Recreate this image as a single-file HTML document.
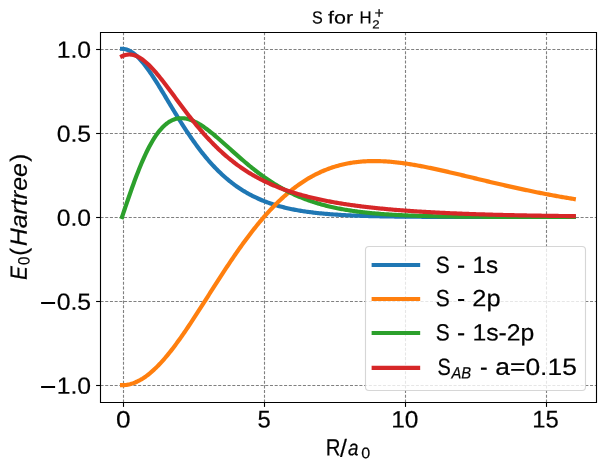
<!DOCTYPE html>
<html><head><meta charset="utf-8"><style>
html,body{margin:0;padding:0;background:#fff;}
svg{display:block;}
text{font-family:"Liberation Sans",sans-serif;fill:#000;}
.t{opacity:0.999;}
.t text{stroke:#000;stroke-width:0.2px;}
</style></head><body>
<svg width="603" height="470" viewBox="0 0 603 470">
<rect width="603" height="470" fill="#fff"/>
<g fill="none" stroke="#808080" stroke-width="1.11" stroke-dasharray="3.04 1.667">
<path d="M123.5,402.5 V32.5"/><path d="M264.5,402.5 V32.5"/><path d="M405.5,402.5 V32.5"/><path d="M546.5,402.5 V32.5"/><path d="M100.5,49.5 H596.5"/><path d="M100.5,133.5 H596.5"/><path d="M100.5,217.5 H596.5"/><path d="M100.5,301.5 H596.5"/><path d="M100.5,385.5 H596.5"/>
</g>
<g fill="none" stroke-width="4.1667" stroke-linecap="square" stroke-linejoin="round">
<path stroke="#1f77b4" d="M122.05,48.85 L123.18,48.90 L124.31,49.03 L125.45,49.25 L126.58,49.57 L127.71,49.97 L128.84,50.45 L129.98,51.02 L131.11,51.67 L132.24,52.40 L133.37,53.21 L134.50,54.09 L135.64,55.05 L136.77,56.07 L137.90,57.16 L139.03,58.32 L140.17,59.53 L141.30,60.81 L142.43,62.14 L143.56,63.52 L144.69,64.96 L145.83,66.44 L146.96,67.96 L148.09,69.52 L149.22,71.13 L150.36,72.77 L151.49,74.44 L152.62,76.14 L153.75,77.87 L154.88,79.63 L156.02,81.40 L157.15,83.20 L158.28,85.02 L159.41,86.85 L160.55,88.70 L161.68,90.56 L162.81,92.42 L163.94,94.30 L165.07,96.18 L166.21,98.06 L167.34,99.95 L168.47,101.84 L169.60,103.73 L170.74,105.61 L171.87,107.49 L173.00,109.37 L174.13,111.23 L175.26,113.09 L176.40,114.95 L177.53,116.79 L178.66,118.62 L179.79,120.43 L180.93,122.24 L182.06,124.03 L183.19,125.80 L184.32,127.56 L185.45,129.30 L186.59,131.03 L187.72,132.74 L188.85,134.43 L189.98,136.10 L191.12,137.75 L192.25,139.38 L193.38,140.99 L194.51,142.58 L195.64,144.15 L196.78,145.70 L197.91,147.23 L199.04,148.73 L200.17,150.22 L201.31,151.68 L202.44,153.12 L203.57,154.53 L204.70,155.93 L205.84,157.30 L206.97,158.65 L208.10,159.98 L209.23,161.28 L210.36,162.56 L211.50,163.82 L212.63,165.06 L213.76,166.28 L214.89,167.47 L216.03,168.64 L217.16,169.79 L218.29,170.92 L219.42,172.03 L220.55,173.12 L221.69,174.18 L222.82,175.22 L223.95,176.25 L225.08,177.25 L226.22,178.23 L227.35,179.19 L228.48,180.13 L229.61,181.06 L230.74,181.96 L231.88,182.84 L233.01,183.71 L234.14,184.55 L235.27,185.38 L236.41,186.19 L237.54,186.98 L238.67,187.76 L239.80,188.51 L240.93,189.25 L242.07,189.98 L243.20,190.68 L244.33,191.38 L245.46,192.05 L246.60,192.71 L247.73,193.35 L248.86,193.98 L249.99,194.60 L251.12,195.19 L252.26,195.78 L253.39,196.35 L254.52,196.91 L255.65,197.45 L256.79,197.98 L257.92,198.50 L259.05,199.00 L260.18,199.50 L261.31,199.98 L262.45,200.45 L263.58,200.90 L264.71,201.35 L265.84,201.78 L266.98,202.20 L268.11,202.62 L269.24,203.02 L270.37,203.41 L271.50,203.79 L272.64,204.16 L273.77,204.52 L274.90,204.88 L276.03,205.22 L277.17,205.55 L278.30,205.88 L279.43,206.19 L280.56,206.50 L281.69,206.80 L282.83,207.10 L283.96,207.38 L285.09,207.66 L286.22,207.93 L287.36,208.19 L288.49,208.44 L289.62,208.69 L290.75,208.93 L291.88,209.17 L293.02,209.40 L294.15,209.62 L295.28,209.83 L296.41,210.04 L297.55,210.25 L298.68,210.45 L299.81,210.64 L300.94,210.83 L302.07,211.01 L303.21,211.19 L304.34,211.36 L305.47,211.53 L306.60,211.69 L307.74,211.85 L308.87,212.00 L310.00,212.15 L311.13,212.30 L312.26,212.44 L313.40,212.58 L314.53,212.71 L315.66,212.84 L316.79,212.96 L317.93,213.09 L319.06,213.20 L320.19,213.32 L321.32,213.43 L322.45,213.54 L323.59,213.64 L324.72,213.75 L325.85,213.85 L326.98,213.94 L328.12,214.04 L329.25,214.13 L330.38,214.21 L331.51,214.30 L332.64,214.38 L333.78,214.46 L334.91,214.54 L336.04,214.62 L337.17,214.69 L338.31,214.76 L339.44,214.83 L340.57,214.90 L341.70,214.96 L342.83,215.03 L343.97,215.09 L345.10,215.15 L346.23,215.21 L347.36,215.26 L348.50,215.32 L349.63,215.37 L350.76,215.42 L351.89,215.47 L353.03,215.52 L354.16,215.56 L355.29,215.61 L356.42,215.65 L357.55,215.70 L358.69,215.74 L359.82,215.78 L360.95,215.81 L362.08,215.85 L363.22,215.89 L364.35,215.92 L365.48,215.96 L366.61,215.99 L367.74,216.02 L368.88,216.05 L370.01,216.08 L371.14,216.11 L372.27,216.14 L373.41,216.17 L374.54,216.20 L375.67,216.22 L376.80,216.25 L377.93,216.27 L379.07,216.29 L380.20,216.32 L381.33,216.34 L382.46,216.36 L383.60,216.38 L384.73,216.40 L385.86,216.42 L386.99,216.44 L388.12,216.46 L389.26,216.47 L390.39,216.49 L391.52,216.51 L392.65,216.52 L393.79,216.54 L394.92,216.55 L396.05,216.57 L397.18,216.58 L398.31,216.60 L399.45,216.61 L400.58,216.62 L401.71,216.63 L402.84,216.65 L403.98,216.66 L405.11,216.67 L406.24,216.68 L407.37,216.69 L408.50,216.70 L409.64,216.71 L410.77,216.72 L411.90,216.73 L413.03,216.74 L414.17,216.75 L415.30,216.75 L416.43,216.76 L417.56,216.77 L418.69,216.78 L419.83,216.79 L420.96,216.79 L422.09,216.80 L423.22,216.81 L424.36,216.81 L425.49,216.82 L426.62,216.82 L427.75,216.83 L428.88,216.84 L430.02,216.84 L431.15,216.85 L432.28,216.85 L433.41,216.86 L434.55,216.86 L435.68,216.87 L436.81,216.87 L437.94,216.87 L439.07,216.88 L440.21,216.88 L441.34,216.89 L442.47,216.89 L443.60,216.89 L444.74,216.90 L445.87,216.90 L447.00,216.90 L448.13,216.91 L449.26,216.91 L450.40,216.91 L451.53,216.92 L452.66,216.92 L453.79,216.92 L454.93,216.92 L456.06,216.93 L457.19,216.93 L458.32,216.93 L459.45,216.93 L460.59,216.94 L461.72,216.94 L462.85,216.94 L463.98,216.94 L465.12,216.94 L466.25,216.95 L467.38,216.95 L468.51,216.95 L469.64,216.95 L470.78,216.95 L471.91,216.95 L473.04,216.96 L474.17,216.96 L475.31,216.96 L476.44,216.96 L477.57,216.96 L478.70,216.96 L479.83,216.96 L480.97,216.97 L482.10,216.97 L483.23,216.97 L484.36,216.97 L485.50,216.97 L486.63,216.97 L487.76,216.97 L488.89,216.97 L490.02,216.97 L491.16,216.97 L492.29,216.98 L493.42,216.98 L494.55,216.98 L495.69,216.98 L496.82,216.98 L497.95,216.98 L499.08,216.98 L500.22,216.98 L501.35,216.98 L502.48,216.98 L503.61,216.98 L504.74,216.98 L505.88,216.98 L507.01,216.98 L508.14,216.99 L509.27,216.99 L510.41,216.99 L511.54,216.99 L512.67,216.99 L513.80,216.99 L514.93,216.99 L516.07,216.99 L517.20,216.99 L518.33,216.99 L519.46,216.99 L520.60,216.99 L521.73,216.99 L522.86,216.99 L523.99,216.99 L525.12,216.99 L526.26,216.99 L527.39,216.99 L528.52,216.99 L529.65,216.99 L530.79,216.99 L531.92,216.99 L533.05,216.99 L534.18,216.99 L535.31,216.99 L536.45,216.99 L537.58,216.99 L538.71,216.99 L539.84,216.99 L540.98,216.99 L542.11,216.99 L543.24,216.99 L544.37,217.00 L545.50,217.00 L546.64,217.00 L547.77,217.00 L548.90,217.00 L550.03,217.00 L551.17,217.00 L552.30,217.00 L553.43,217.00 L554.56,217.00 L555.69,217.00 L556.83,217.00 L557.96,217.00 L559.09,217.00 L560.22,217.00 L561.36,217.00 L562.49,217.00 L563.62,217.00 L564.75,217.00 L565.88,217.00 L567.02,217.00 L568.15,217.00 L569.28,217.00 L570.41,217.00 L571.55,217.00 L572.68,217.00 L573.81,217.00"/><path stroke="#ff7f0e" d="M122.05,385.15 L123.18,385.13 L124.31,385.07 L125.45,384.97 L126.58,384.83 L127.71,384.64 L128.84,384.42 L129.98,384.16 L131.11,383.86 L132.24,383.51 L133.37,383.13 L134.50,382.71 L135.64,382.25 L136.77,381.75 L137.90,381.22 L139.03,380.64 L140.17,380.03 L141.30,379.38 L142.43,378.70 L143.56,377.97 L144.69,377.21 L145.83,376.42 L146.96,375.59 L148.09,374.73 L149.22,373.83 L150.36,372.90 L151.49,371.93 L152.62,370.94 L153.75,369.91 L154.88,368.85 L156.02,367.76 L157.15,366.64 L158.28,365.49 L159.41,364.31 L160.55,363.10 L161.68,361.87 L162.81,360.61 L163.94,359.32 L165.07,358.01 L166.21,356.67 L167.34,355.31 L168.47,353.93 L169.60,352.52 L170.74,351.09 L171.87,349.64 L173.00,348.17 L174.13,346.67 L175.26,345.16 L176.40,343.63 L177.53,342.09 L178.66,340.52 L179.79,338.94 L180.93,337.34 L182.06,335.73 L183.19,334.10 L184.32,332.46 L185.45,330.81 L186.59,329.15 L187.72,327.47 L188.85,325.78 L189.98,324.08 L191.12,322.37 L192.25,320.66 L193.38,318.93 L194.51,317.20 L195.64,315.46 L196.78,313.71 L197.91,311.96 L199.04,310.20 L200.17,308.44 L201.31,306.67 L202.44,304.90 L203.57,303.13 L204.70,301.36 L205.84,299.58 L206.97,297.80 L208.10,296.02 L209.23,294.25 L210.36,292.47 L211.50,290.70 L212.63,288.92 L213.76,287.15 L214.89,285.38 L216.03,283.61 L217.16,281.85 L218.29,280.09 L219.42,278.34 L220.55,276.59 L221.69,274.85 L222.82,273.11 L223.95,271.38 L225.08,269.66 L226.22,267.94 L227.35,266.23 L228.48,264.53 L229.61,262.84 L230.74,261.16 L231.88,259.48 L233.01,257.82 L234.14,256.16 L235.27,254.52 L236.41,252.88 L237.54,251.26 L238.67,249.65 L239.80,248.04 L240.93,246.45 L242.07,244.88 L243.20,243.31 L244.33,241.76 L245.46,240.22 L246.60,238.69 L247.73,237.17 L248.86,235.67 L249.99,234.18 L251.12,232.71 L252.26,231.25 L253.39,229.80 L254.52,228.37 L255.65,226.96 L256.79,225.55 L257.92,224.17 L259.05,222.79 L260.18,221.44 L261.31,220.09 L262.45,218.77 L263.58,217.45 L264.71,216.16 L265.84,214.88 L266.98,213.61 L268.11,212.36 L269.24,211.13 L270.37,209.91 L271.50,208.71 L272.64,207.53 L273.77,206.36 L274.90,205.21 L276.03,204.07 L277.17,202.95 L278.30,201.85 L279.43,200.76 L280.56,199.69 L281.69,198.63 L282.83,197.59 L283.96,196.57 L285.09,195.57 L286.22,194.58 L287.36,193.60 L288.49,192.65 L289.62,191.70 L290.75,190.78 L291.88,189.87 L293.02,188.98 L294.15,188.10 L295.28,187.24 L296.41,186.40 L297.55,185.57 L298.68,184.76 L299.81,183.96 L300.94,183.18 L302.07,182.42 L303.21,181.67 L304.34,180.93 L305.47,180.21 L306.60,179.51 L307.74,178.82 L308.87,178.15 L310.00,177.49 L311.13,176.85 L312.26,176.22 L313.40,175.61 L314.53,175.01 L315.66,174.43 L316.79,173.86 L317.93,173.30 L319.06,172.76 L320.19,172.24 L321.32,171.72 L322.45,171.22 L323.59,170.74 L324.72,170.27 L325.85,169.81 L326.98,169.37 L328.12,168.94 L329.25,168.52 L330.38,168.11 L331.51,167.72 L332.64,167.34 L333.78,166.98 L334.91,166.62 L336.04,166.28 L337.17,165.95 L338.31,165.64 L339.44,165.33 L340.57,165.04 L341.70,164.76 L342.83,164.49 L343.97,164.23 L345.10,163.98 L346.23,163.75 L347.36,163.52 L348.50,163.31 L349.63,163.10 L350.76,162.91 L351.89,162.73 L353.03,162.56 L354.16,162.39 L355.29,162.24 L356.42,162.10 L357.55,161.97 L358.69,161.85 L359.82,161.73 L360.95,161.63 L362.08,161.54 L363.22,161.45 L364.35,161.37 L365.48,161.31 L366.61,161.25 L367.74,161.20 L368.88,161.16 L370.01,161.12 L371.14,161.10 L372.27,161.08 L373.41,161.07 L374.54,161.07 L375.67,161.07 L376.80,161.09 L377.93,161.11 L379.07,161.13 L380.20,161.17 L381.33,161.21 L382.46,161.26 L383.60,161.31 L384.73,161.38 L385.86,161.44 L386.99,161.52 L388.12,161.60 L389.26,161.69 L390.39,161.78 L391.52,161.88 L392.65,161.98 L393.79,162.09 L394.92,162.21 L396.05,162.33 L397.18,162.45 L398.31,162.58 L399.45,162.72 L400.58,162.86 L401.71,163.01 L402.84,163.16 L403.98,163.31 L405.11,163.47 L406.24,163.64 L407.37,163.80 L408.50,163.98 L409.64,164.15 L410.77,164.33 L411.90,164.52 L413.03,164.71 L414.17,164.90 L415.30,165.09 L416.43,165.29 L417.56,165.49 L418.69,165.70 L419.83,165.91 L420.96,166.12 L422.09,166.33 L423.22,166.55 L424.36,166.77 L425.49,166.99 L426.62,167.22 L427.75,167.45 L428.88,167.68 L430.02,167.91 L431.15,168.15 L432.28,168.38 L433.41,168.62 L434.55,168.87 L435.68,169.11 L436.81,169.35 L437.94,169.60 L439.07,169.85 L440.21,170.10 L441.34,170.36 L442.47,170.61 L443.60,170.87 L444.74,171.12 L445.87,171.38 L447.00,171.64 L448.13,171.90 L449.26,172.16 L450.40,172.43 L451.53,172.69 L452.66,172.96 L453.79,173.22 L454.93,173.49 L456.06,173.76 L457.19,174.03 L458.32,174.30 L459.45,174.56 L460.59,174.84 L461.72,175.11 L462.85,175.38 L463.98,175.65 L465.12,175.92 L466.25,176.19 L467.38,176.47 L468.51,176.74 L469.64,177.01 L470.78,177.29 L471.91,177.56 L473.04,177.83 L474.17,178.11 L475.31,178.38 L476.44,178.65 L477.57,178.93 L478.70,179.20 L479.83,179.47 L480.97,179.74 L482.10,180.02 L483.23,180.29 L484.36,180.56 L485.50,180.83 L486.63,181.10 L487.76,181.37 L488.89,181.64 L490.02,181.91 L491.16,182.18 L492.29,182.45 L493.42,182.71 L494.55,182.98 L495.69,183.25 L496.82,183.51 L497.95,183.78 L499.08,184.04 L500.22,184.30 L501.35,184.57 L502.48,184.83 L503.61,185.09 L504.74,185.35 L505.88,185.61 L507.01,185.86 L508.14,186.12 L509.27,186.38 L510.41,186.63 L511.54,186.89 L512.67,187.14 L513.80,187.39 L514.93,187.64 L516.07,187.89 L517.20,188.14 L518.33,188.39 L519.46,188.64 L520.60,188.88 L521.73,189.13 L522.86,189.37 L523.99,189.61 L525.12,189.85 L526.26,190.09 L527.39,190.33 L528.52,190.57 L529.65,190.80 L530.79,191.04 L531.92,191.27 L533.05,191.51 L534.18,191.74 L535.31,191.97 L536.45,192.19 L537.58,192.42 L538.71,192.65 L539.84,192.87 L540.98,193.09 L542.11,193.32 L543.24,193.54 L544.37,193.76 L545.50,193.97 L546.64,194.19 L547.77,194.41 L548.90,194.62 L550.03,194.83 L551.17,195.04 L552.30,195.25 L553.43,195.46 L554.56,195.67 L555.69,195.87 L556.83,196.08 L557.96,196.28 L559.09,196.48 L560.22,196.68 L561.36,196.88 L562.49,197.08 L563.62,197.27 L564.75,197.47 L565.88,197.66 L567.02,197.85 L568.15,198.04 L569.28,198.23 L570.41,198.42 L571.55,198.61 L572.68,198.79 L573.81,198.98"/><path stroke="#2ca02c" d="M122.05,217.00 L123.18,213.63 L124.31,210.27 L125.45,206.91 L126.58,203.57 L127.71,200.26 L128.84,196.97 L129.98,193.71 L131.11,190.49 L132.24,187.30 L133.37,184.17 L134.50,181.08 L135.64,178.04 L136.77,175.06 L137.90,172.14 L139.03,169.28 L140.17,166.49 L141.30,163.77 L142.43,161.12 L143.56,158.54 L144.69,156.04 L145.83,153.61 L146.96,151.27 L148.09,149.00 L149.22,146.82 L150.36,144.71 L151.49,142.69 L152.62,140.76 L153.75,138.90 L154.88,137.14 L156.02,135.45 L157.15,133.85 L158.28,132.33 L159.41,130.90 L160.55,129.55 L161.68,128.28 L162.81,127.09 L163.94,125.99 L165.07,124.96 L166.21,124.01 L167.34,123.14 L168.47,122.35 L169.60,121.62 L170.74,120.98 L171.87,120.40 L173.00,119.90 L174.13,119.46 L175.26,119.10 L176.40,118.80 L177.53,118.56 L178.66,118.38 L179.79,118.27 L180.93,118.21 L182.06,118.21 L183.19,118.27 L184.32,118.38 L185.45,118.55 L186.59,118.76 L187.72,119.02 L188.85,119.33 L189.98,119.68 L191.12,120.08 L192.25,120.52 L193.38,121.00 L194.51,121.52 L195.64,122.07 L196.78,122.66 L197.91,123.28 L199.04,123.93 L200.17,124.62 L201.31,125.33 L202.44,126.07 L203.57,126.83 L204.70,127.62 L205.84,128.43 L206.97,129.26 L208.10,130.12 L209.23,130.99 L210.36,131.88 L211.50,132.78 L212.63,133.70 L213.76,134.63 L214.89,135.58 L216.03,136.54 L217.16,137.50 L218.29,138.48 L219.42,139.46 L220.55,140.46 L221.69,141.45 L222.82,142.46 L223.95,143.47 L225.08,144.48 L226.22,145.49 L227.35,146.51 L228.48,147.52 L229.61,148.54 L230.74,149.56 L231.88,150.57 L233.01,151.59 L234.14,152.60 L235.27,153.61 L236.41,154.61 L237.54,155.62 L238.67,156.61 L239.80,157.61 L240.93,158.59 L242.07,159.57 L243.20,160.55 L244.33,161.52 L245.46,162.48 L246.60,163.43 L247.73,164.38 L248.86,165.31 L249.99,166.24 L251.12,167.16 L252.26,168.08 L253.39,168.98 L254.52,169.87 L255.65,170.75 L256.79,171.63 L257.92,172.49 L259.05,173.35 L260.18,174.19 L261.31,175.02 L262.45,175.85 L263.58,176.66 L264.71,177.46 L265.84,178.25 L266.98,179.03 L268.11,179.80 L269.24,180.56 L270.37,181.30 L271.50,182.04 L272.64,182.77 L273.77,183.48 L274.90,184.18 L276.03,184.88 L277.17,185.56 L278.30,186.23 L279.43,186.89 L280.56,187.54 L281.69,188.18 L282.83,188.80 L283.96,189.42 L285.09,190.03 L286.22,190.62 L287.36,191.21 L288.49,191.78 L289.62,192.35 L290.75,192.90 L291.88,193.45 L293.02,193.98 L294.15,194.51 L295.28,195.02 L296.41,195.53 L297.55,196.02 L298.68,196.51 L299.81,196.98 L300.94,197.45 L302.07,197.91 L303.21,198.36 L304.34,198.80 L305.47,199.23 L306.60,199.65 L307.74,200.06 L308.87,200.47 L310.00,200.87 L311.13,201.26 L312.26,201.64 L313.40,202.01 L314.53,202.37 L315.66,202.73 L316.79,203.08 L317.93,203.42 L319.06,203.76 L320.19,204.08 L321.32,204.40 L322.45,204.72 L323.59,205.02 L324.72,205.32 L325.85,205.62 L326.98,205.90 L328.12,206.18 L329.25,206.46 L330.38,206.72 L331.51,206.98 L332.64,207.24 L333.78,207.49 L334.91,207.73 L336.04,207.97 L337.17,208.20 L338.31,208.43 L339.44,208.65 L340.57,208.87 L341.70,209.08 L342.83,209.29 L343.97,209.49 L345.10,209.68 L346.23,209.88 L347.36,210.06 L348.50,210.25 L349.63,210.43 L350.76,210.60 L351.89,210.77 L353.03,210.94 L354.16,211.10 L355.29,211.25 L356.42,211.41 L357.55,211.56 L358.69,211.70 L359.82,211.85 L360.95,211.99 L362.08,212.12 L363.22,212.25 L364.35,212.38 L365.48,212.51 L366.61,212.63 L367.74,212.75 L368.88,212.87 L370.01,212.98 L371.14,213.09 L372.27,213.20 L373.41,213.30 L374.54,213.40 L375.67,213.50 L376.80,213.60 L377.93,213.69 L379.07,213.79 L380.20,213.87 L381.33,213.96 L382.46,214.05 L383.60,214.13 L384.73,214.21 L385.86,214.29 L386.99,214.36 L388.12,214.44 L389.26,214.51 L390.39,214.58 L391.52,214.65 L392.65,214.72 L393.79,214.78 L394.92,214.84 L396.05,214.90 L397.18,214.96 L398.31,215.02 L399.45,215.08 L400.58,215.13 L401.71,215.19 L402.84,215.24 L403.98,215.29 L405.11,215.34 L406.24,215.39 L407.37,215.43 L408.50,215.48 L409.64,215.52 L410.77,215.56 L411.90,215.61 L413.03,215.65 L414.17,215.69 L415.30,215.72 L416.43,215.76 L417.56,215.80 L418.69,215.83 L419.83,215.87 L420.96,215.90 L422.09,215.93 L423.22,215.96 L424.36,215.99 L425.49,216.02 L426.62,216.05 L427.75,216.08 L428.88,216.11 L430.02,216.13 L431.15,216.16 L432.28,216.18 L433.41,216.21 L434.55,216.23 L435.68,216.25 L436.81,216.28 L437.94,216.30 L439.07,216.32 L440.21,216.34 L441.34,216.36 L442.47,216.38 L443.60,216.40 L444.74,216.41 L445.87,216.43 L447.00,216.45 L448.13,216.47 L449.26,216.48 L450.40,216.50 L451.53,216.51 L452.66,216.53 L453.79,216.54 L454.93,216.56 L456.06,216.57 L457.19,216.58 L458.32,216.59 L459.45,216.61 L460.59,216.62 L461.72,216.63 L462.85,216.64 L463.98,216.65 L465.12,216.66 L466.25,216.67 L467.38,216.68 L468.51,216.69 L469.64,216.70 L470.78,216.71 L471.91,216.72 L473.04,216.73 L474.17,216.74 L475.31,216.75 L476.44,216.75 L477.57,216.76 L478.70,216.77 L479.83,216.78 L480.97,216.78 L482.10,216.79 L483.23,216.80 L484.36,216.80 L485.50,216.81 L486.63,216.81 L487.76,216.82 L488.89,216.83 L490.02,216.83 L491.16,216.84 L492.29,216.84 L493.42,216.85 L494.55,216.85 L495.69,216.86 L496.82,216.86 L497.95,216.86 L499.08,216.87 L500.22,216.87 L501.35,216.88 L502.48,216.88 L503.61,216.88 L504.74,216.89 L505.88,216.89 L507.01,216.89 L508.14,216.90 L509.27,216.90 L510.41,216.90 L511.54,216.91 L512.67,216.91 L513.80,216.91 L514.93,216.92 L516.07,216.92 L517.20,216.92 L518.33,216.92 L519.46,216.93 L520.60,216.93 L521.73,216.93 L522.86,216.93 L523.99,216.93 L525.12,216.94 L526.26,216.94 L527.39,216.94 L528.52,216.94 L529.65,216.94 L530.79,216.95 L531.92,216.95 L533.05,216.95 L534.18,216.95 L535.31,216.95 L536.45,216.95 L537.58,216.96 L538.71,216.96 L539.84,216.96 L540.98,216.96 L542.11,216.96 L543.24,216.96 L544.37,216.96 L545.50,216.96 L546.64,216.97 L547.77,216.97 L548.90,216.97 L550.03,216.97 L551.17,216.97 L552.30,216.97 L553.43,216.97 L554.56,216.97 L555.69,216.97 L556.83,216.97 L557.96,216.98 L559.09,216.98 L560.22,216.98 L561.36,216.98 L562.49,216.98 L563.62,216.98 L564.75,216.98 L565.88,216.98 L567.02,216.98 L568.15,216.98 L569.28,216.98 L570.41,216.98 L571.55,216.98 L572.68,216.98 L573.81,216.98"/><path stroke="#d62728" d="M122.05,56.25 L123.18,55.74 L124.31,55.32 L125.45,54.99 L126.58,54.74 L127.71,54.58 L128.84,54.50 L129.98,54.51 L131.11,54.59 L132.24,54.76 L133.37,55.01 L134.50,55.33 L135.64,55.73 L136.77,56.20 L137.90,56.73 L139.03,57.34 L140.17,58.01 L141.30,58.74 L142.43,59.53 L143.56,60.38 L144.69,61.28 L145.83,62.23 L146.96,63.23 L148.09,64.28 L149.22,65.37 L150.36,66.51 L151.49,67.68 L152.62,68.89 L153.75,70.14 L154.88,71.41 L156.02,72.72 L157.15,74.06 L158.28,75.42 L159.41,76.80 L160.55,78.21 L161.68,79.63 L162.81,81.07 L163.94,82.53 L165.07,84.00 L166.21,85.49 L167.34,86.98 L168.47,88.49 L169.60,90.00 L170.74,91.52 L171.87,93.04 L173.00,94.56 L174.13,96.09 L175.26,97.62 L176.40,99.15 L177.53,100.67 L178.66,102.20 L179.79,103.72 L180.93,105.23 L182.06,106.74 L183.19,108.25 L184.32,109.74 L185.45,111.23 L186.59,112.71 L187.72,114.18 L188.85,115.65 L189.98,117.10 L191.12,118.54 L192.25,119.96 L193.38,121.38 L194.51,122.78 L195.64,124.17 L196.78,125.55 L197.91,126.91 L199.04,128.26 L200.17,129.60 L201.31,130.92 L202.44,132.22 L203.57,133.52 L204.70,134.79 L205.84,136.05 L206.97,137.30 L208.10,138.53 L209.23,139.74 L210.36,140.94 L211.50,142.12 L212.63,143.29 L213.76,144.44 L214.89,145.58 L216.03,146.70 L217.16,147.80 L218.29,148.89 L219.42,149.96 L220.55,151.02 L221.69,152.06 L222.82,153.08 L223.95,154.09 L225.08,155.09 L226.22,156.07 L227.35,157.03 L228.48,157.98 L229.61,158.91 L230.74,159.83 L231.88,160.74 L233.01,161.63 L234.14,162.50 L235.27,163.37 L236.41,164.21 L237.54,165.05 L238.67,165.87 L239.80,166.68 L240.93,167.47 L242.07,168.25 L243.20,169.02 L244.33,169.77 L245.46,170.51 L246.60,171.24 L247.73,171.96 L248.86,172.66 L249.99,173.36 L251.12,174.04 L252.26,174.71 L253.39,175.37 L254.52,176.01 L255.65,176.65 L256.79,177.27 L257.92,177.89 L259.05,178.49 L260.18,179.09 L261.31,179.67 L262.45,180.24 L263.58,180.81 L264.71,181.36 L265.84,181.90 L266.98,182.44 L268.11,182.96 L269.24,183.48 L270.37,183.99 L271.50,184.49 L272.64,184.98 L273.77,185.46 L274.90,185.93 L276.03,186.40 L277.17,186.86 L278.30,187.31 L279.43,187.75 L280.56,188.18 L281.69,188.61 L282.83,189.03 L283.96,189.44 L285.09,189.85 L286.22,190.25 L287.36,190.64 L288.49,191.03 L289.62,191.40 L290.75,191.78 L291.88,192.14 L293.02,192.50 L294.15,192.86 L295.28,193.21 L296.41,193.55 L297.55,193.89 L298.68,194.22 L299.81,194.54 L300.94,194.87 L302.07,195.18 L303.21,195.49 L304.34,195.80 L305.47,196.10 L306.60,196.39 L307.74,196.68 L308.87,196.97 L310.00,197.25 L311.13,197.53 L312.26,197.80 L313.40,198.07 L314.53,198.33 L315.66,198.59 L316.79,198.85 L317.93,199.10 L319.06,199.35 L320.19,199.59 L321.32,199.83 L322.45,200.07 L323.59,200.30 L324.72,200.53 L325.85,200.76 L326.98,200.98 L328.12,201.20 L329.25,201.41 L330.38,201.63 L331.51,201.83 L332.64,202.04 L333.78,202.24 L334.91,202.44 L336.04,202.64 L337.17,202.83 L338.31,203.03 L339.44,203.21 L340.57,203.40 L341.70,203.58 L342.83,203.76 L343.97,203.94 L345.10,204.11 L346.23,204.29 L347.36,204.46 L348.50,204.62 L349.63,204.79 L350.76,204.95 L351.89,205.11 L353.03,205.27 L354.16,205.42 L355.29,205.58 L356.42,205.73 L357.55,205.88 L358.69,206.02 L359.82,206.17 L360.95,206.31 L362.08,206.45 L363.22,206.59 L364.35,206.73 L365.48,206.86 L366.61,207.00 L367.74,207.13 L368.88,207.26 L370.01,207.39 L371.14,207.51 L372.27,207.64 L373.41,207.76 L374.54,207.88 L375.67,208.00 L376.80,208.12 L377.93,208.23 L379.07,208.35 L380.20,208.46 L381.33,208.57 L382.46,208.68 L383.60,208.79 L384.73,208.90 L385.86,209.00 L386.99,209.11 L388.12,209.21 L389.26,209.31 L390.39,209.41 L391.52,209.51 L392.65,209.61 L393.79,209.71 L394.92,209.80 L396.05,209.89 L397.18,209.99 L398.31,210.08 L399.45,210.17 L400.58,210.26 L401.71,210.34 L402.84,210.43 L403.98,210.52 L405.11,210.60 L406.24,210.68 L407.37,210.77 L408.50,210.85 L409.64,210.93 L410.77,211.01 L411.90,211.08 L413.03,211.16 L414.17,211.24 L415.30,211.31 L416.43,211.38 L417.56,211.46 L418.69,211.53 L419.83,211.60 L420.96,211.67 L422.09,211.74 L423.22,211.81 L424.36,211.88 L425.49,211.94 L426.62,212.01 L427.75,212.07 L428.88,212.14 L430.02,212.20 L431.15,212.26 L432.28,212.33 L433.41,212.39 L434.55,212.45 L435.68,212.51 L436.81,212.56 L437.94,212.62 L439.07,212.68 L440.21,212.74 L441.34,212.79 L442.47,212.85 L443.60,212.90 L444.74,212.95 L445.87,213.01 L447.00,213.06 L448.13,213.11 L449.26,213.16 L450.40,213.21 L451.53,213.26 L452.66,213.31 L453.79,213.36 L454.93,213.41 L456.06,213.45 L457.19,213.50 L458.32,213.55 L459.45,213.59 L460.59,213.64 L461.72,213.68 L462.85,213.72 L463.98,213.77 L465.12,213.81 L466.25,213.85 L467.38,213.89 L468.51,213.93 L469.64,213.97 L470.78,214.01 L471.91,214.05 L473.04,214.09 L474.17,214.13 L475.31,214.17 L476.44,214.21 L477.57,214.24 L478.70,214.28 L479.83,214.31 L480.97,214.35 L482.10,214.39 L483.23,214.42 L484.36,214.45 L485.50,214.49 L486.63,214.52 L487.76,214.55 L488.89,214.59 L490.02,214.62 L491.16,214.65 L492.29,214.68 L493.42,214.71 L494.55,214.74 L495.69,214.77 L496.82,214.80 L497.95,214.83 L499.08,214.86 L500.22,214.89 L501.35,214.92 L502.48,214.94 L503.61,214.97 L504.74,215.00 L505.88,215.02 L507.01,215.05 L508.14,215.08 L509.27,215.10 L510.41,215.13 L511.54,215.15 L512.67,215.18 L513.80,215.20 L514.93,215.23 L516.07,215.25 L517.20,215.27 L518.33,215.30 L519.46,215.32 L520.60,215.34 L521.73,215.36 L522.86,215.39 L523.99,215.41 L525.12,215.43 L526.26,215.45 L527.39,215.47 L528.52,215.49 L529.65,215.51 L530.79,215.53 L531.92,215.55 L533.05,215.57 L534.18,215.59 L535.31,215.61 L536.45,215.63 L537.58,215.65 L538.71,215.67 L539.84,215.68 L540.98,215.70 L542.11,215.72 L543.24,215.74 L544.37,215.75 L545.50,215.77 L546.64,215.79 L547.77,215.80 L548.90,215.82 L550.03,215.84 L551.17,215.85 L552.30,215.87 L553.43,215.88 L554.56,215.90 L555.69,215.91 L556.83,215.93 L557.96,215.94 L559.09,215.96 L560.22,215.97 L561.36,215.98 L562.49,216.00 L563.62,216.01 L564.75,216.02 L565.88,216.04 L567.02,216.05 L568.15,216.06 L569.28,216.08 L570.41,216.09 L571.55,216.10 L572.68,216.11 L573.81,216.13"/>
</g>
<g fill="none" stroke="#000" stroke-width="1.11">
<path d="M96.10,49.5 H100.5"/><path d="M96.10,133.5 H100.5"/><path d="M96.10,217.5 H100.5"/><path d="M96.10,301.5 H100.5"/><path d="M96.10,385.5 H100.5"/><path d="M123.5,402.5 V406.90"/><path d="M264.5,402.5 V406.90"/><path d="M405.5,402.5 V406.90"/><path d="M546.5,402.5 V406.90"/>
<path d="M100.5,402.5 V32.5 H596.5 V402.5 Z" stroke-linecap="square" stroke-linejoin="miter"/>
</g>
<rect x="365.5" y="246.5" width="220.0" height="144.0" rx="3.5" fill="#fff" fill-opacity="0.8" stroke="#ccc" stroke-opacity="0.8" stroke-width="1.1"/>
<g fill="none" stroke-width="4.1667" stroke-linecap="square">
<path stroke="#1f77b4" d="M373.7,265.0 H418.1"/><path stroke="#ff7f0e" d="M373.7,299.0 H418.1"/><path stroke="#2ca02c" d="M373.7,333.0 H418.1"/><path stroke="#d62728" d="M373.7,367.9 H418.1"/>
</g>
<rect x="41.1" y="302.0" width="14.00" height="2"/><rect x="41.1" y="386.0" width="14.00" height="2"/>
<g class="t"><text transform="translate(312.08,23.50) scale(0.9150,1) rotate(0.1,5.87,0)" font-size="17.600">S</text>
<text transform="translate(328.08,23.50) scale(1.2238,1) rotate(0.1,10.27,0)" font-size="17.600">for</text>
<text transform="translate(359.62,23.50) scale(0.9537,1) rotate(0.1,6.38,0)" font-size="17.600">H</text>
<text transform="translate(372.34,28.60) scale(1.1082,1) rotate(0.1,3.30,0)" font-size="11.900">2</text>
<text transform="translate(374.41,18.02) scale(1.0513,1) rotate(0.1,4.42,0)" font-size="15.102">+</text>
<text transform="translate(56.64,57.71) scale(1.0543,1) rotate(0.1,16.75,0)" font-size="23.463">1.0</text>
<text transform="translate(56.71,141.71) scale(1.0599,1) rotate(0.1,16.22,0)" font-size="23.380">0.5</text>
<text transform="translate(56.71,225.71) scale(1.0558,1) rotate(0.1,16.28,0)" font-size="23.380">0.0</text>
<text transform="translate(56.71,309.71) scale(1.0599,1) rotate(0.1,16.22,0)" font-size="23.380">0.5</text>
<text transform="translate(56.64,393.71) scale(1.0543,1) rotate(0.1,16.75,0)" font-size="23.463">1.0</text>
<text transform="translate(115.95,427.56) scale(1.1024,1) rotate(0.1,6.62,0)" font-size="23.746">0</text>
<text transform="translate(257.45,427.56) scale(0.9877,1) rotate(0.1,6.68,0)" font-size="24.086">5</text>
<text transform="translate(391.16,427.56) scale(1.0318,1) rotate(0.1,13.65,0)" font-size="23.746">10</text>
<text transform="translate(532.21,427.56) scale(0.9889,1) rotate(0.1,13.79,0)" font-size="24.086">15</text>
<text transform="translate(325.72,455.40) scale(0.8667,1) rotate(0.1,8.92,0)" font-size="23.564">R</text>
<text transform="translate(339.88,456.75) scale(1.0000,1) rotate(0.1,3.42,0)" font-size="24.626">/</text>
<text transform="translate(347.98,455.18) scale(0.8650,1) rotate(0.1,5.92,0)" font-size="21.735" font-style="italic">a</text>
<text transform="translate(361.25,458.25) scale(1.0564,1) rotate(0.1,4.26,0)" font-size="15.265">0</text>
<text transform="translate(26.70,279.71) rotate(-90) scale(0.8652,1) rotate(0.1,8.34,0)" font-size="23.564" font-style="italic">E</text>
<text transform="translate(29.40,264.90) rotate(-90) scale(0.9174,1) rotate(0.1,4.58,0)" font-size="16.436">0</text>
<text transform="translate(435.86,272.90) scale(0.8892,1) rotate(0.1,7.86,0)" font-size="23.564">S</text>
<text transform="translate(457.10,272.90) scale(1.0393,1) rotate(0.1,3.95,0)" font-size="23.564">-</text>
<text transform="translate(472.48,272.90) scale(1.0284,1) rotate(0.1,12.90,0)" font-size="23.564">1s</text>
<text transform="translate(435.86,306.30) scale(0.8892,1) rotate(0.1,7.86,0)" font-size="23.564">S</text>
<text transform="translate(457.10,306.30) scale(1.0393,1) rotate(0.1,3.95,0)" font-size="23.564">-</text>
<text transform="translate(472.33,306.30) scale(1.0776,1) rotate(0.1,13.20,0)" font-size="23.564">2p</text>
<text transform="translate(435.86,340.50) scale(0.8892,1) rotate(0.1,7.86,0)" font-size="23.564">S</text>
<text transform="translate(457.10,340.50) scale(1.0393,1) rotate(0.1,3.95,0)" font-size="23.564">-</text>
<text transform="translate(472.44,340.50) scale(1.0516,1) rotate(0.1,29.87,0)" font-size="23.564">1s-2p</text>
<text transform="translate(437.40,374.90) scale(0.8451,1) rotate(0.1,7.86,0)" font-size="23.564">S</text>
<text transform="translate(451.40,378.46) scale(0.8939,1) rotate(0.1,10.35,0)" font-size="16.522" font-style="italic">AB</text>
<text transform="translate(480.07,374.90) scale(0.9700,1) rotate(0.1,3.95,0)" font-size="23.564">-</text>
<text transform="translate(495.28,374.90) scale(1.1223,1) rotate(0.1,36.38,0)" font-size="23.564">a=0.15</text>
<text transform="translate(26.70,255.84) rotate(-90) scale(1.0000,1) rotate(0.1,4.59,0)" font-size="23.564">(</text>
<text transform="translate(26.70,246.35) rotate(-90) scale(1.0611,1) rotate(0.1,39.20,0)" font-size="23.564" font-style="italic">Hartree</text>
<text transform="translate(26.70,161.80) rotate(-90) scale(1.0000,1) rotate(0.1,3.30,0)" font-size="23.564">)</text></g>
</svg>
</body></html>
